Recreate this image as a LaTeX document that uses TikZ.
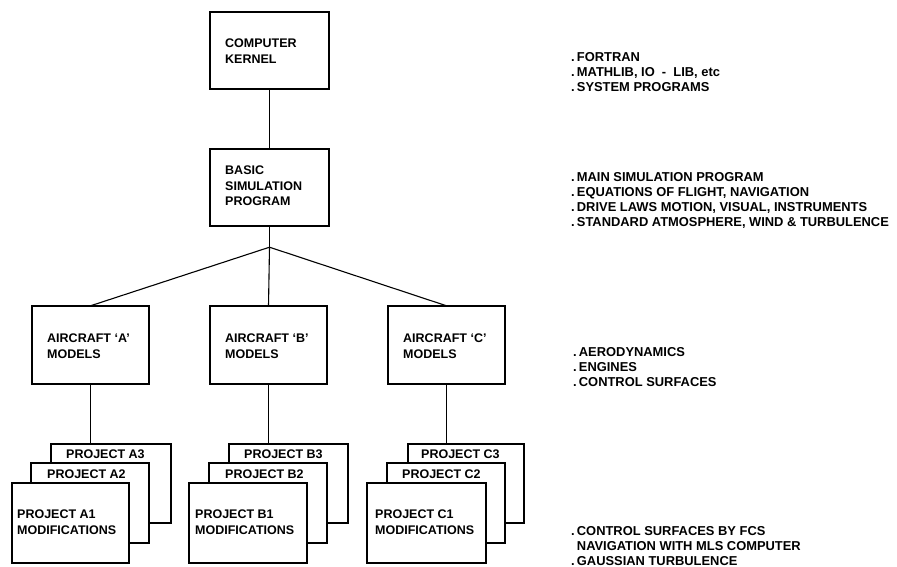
\documentclass[tikz,border=0pt]{standalone}
\usepackage{fontspec}
\setmainfont{Liberation Sans}
\begin{document}
\begin{tikzpicture}[x=1pt,y=-1pt,
  box/.style={draw=black,line width=1.6pt,fill=white,inner sep=0pt},
  conn/.style={draw=black,line width=1.1pt},
  boxtxt/.style={font=\fontsize{12.5}{15.5}\selectfont\bfseries,align=left,anchor=west,inner sep=0pt},
  note/.style={font=\fontsize{12.9}{15}\selectfont\bfseries,align=left,anchor=north west,inner sep=0pt}
]
\useasboundingbox (0,0) rectangle (897,567);
% helper macro for boxes by corners
\newcommand{\mybox}[5]{\path[box] (#2,#3) rectangle (#4,#5); \node[inner sep=0pt,minimum width={#4-#2},minimum height={#5-#3}] (#1) at ({(#2+#4)/2},{(#3+#5)/2}) {};}
% top boxes
\mybox{K}{210}{12}{329}{89}
\node[boxtxt] (Kt) at (225,51) {COMPUTER\\KERNEL};
\mybox{S}{210}{149}{329}{226}
\node[boxtxt] (St) at (225,186) {BASIC\\SIMULATION\\PROGRAM};
% aircraft
\mybox{A}{32}{306}{149}{384}
\node[boxtxt] (At) at (47,346) {AIRCRAFT `A'\\MODELS};
\mybox{B}{210}{306}{327}{384}
\node[boxtxt] (Bt) at (225,346) {AIRCRAFT `B'\\MODELS};
\mybox{C}{388}{306}{505}{384}
\node[boxtxt] (Ct) at (403,346) {AIRCRAFT `C'\\MODELS};
% connectors
\coordinate (J) at ([yshift=-21pt]S.south);
\draw[conn] (K.south) -- (S.north);
\draw[conn] (S.south) -- (J);
\draw[conn] (J) -- (A.north);
\draw[conn] (J) -- (B.north);
\draw[conn] (J) -- (C.north);
% project stacks
\mybox{Aiii}{51}{444}{171}{523}
\mybox{Aii}{31}{463}{149}{543}
\mybox{Ai}{12}{483}{129}{563}
\node[boxtxt] (Aiiit) at (66,454) {PROJECT A3};
\node[boxtxt] (Aiit) at (47,474) {PROJECT A2};
\node[boxtxt] (Ait) at (17,522) {PROJECT A1\\MODIFICATIONS};
\mybox{Biii}{229}{444}{348}{523}
\mybox{Bii}{209}{463}{327}{543}
\mybox{Bi}{189}{483}{307}{563}
\node[boxtxt] (Biiit) at (244,454) {PROJECT B3};
\node[boxtxt] (Biit) at (225,474) {PROJECT B2};
\node[boxtxt] (Bit) at (195,522) {PROJECT B1\\MODIFICATIONS};
\mybox{Ciii}{408}{444}{524}{523}
\mybox{Cii}{387}{463}{505}{543}
\mybox{Ci}{367}{483}{486}{563}
\node[boxtxt] (Ciiit) at (421,454) {PROJECT C3};
\node[boxtxt] (Ciit) at (402,474) {PROJECT C2};
\node[boxtxt] (Cit) at (375,522) {PROJECT C1\\MODIFICATIONS};
\draw[conn] (A.south) -- (A.south |- Aiii.north);
\draw[conn] (B.south) -- (B.south |- Biii.north);
\draw[conn] (C.south) -- (C.south |- Ciii.north);
% right notes
\node[note] (N1) at (571,52) {.\,FORTRAN\\.\,MATHLIB, IO\ \ -\ \ LIB, etc\\.\,SYSTEM PROGRAMS};
\node[note] (N2) at (571,172) {.\,MAIN SIMULATION PROGRAM\\.\,EQUATIONS OF FLIGHT, NAVIGATION\\.\,DRIVE LAWS MOTION, VISUAL, INSTRUMENTS\\.\,STANDARD ATMOSPHERE, WIND \& TURBULENCE};
\node[note] (N3) at (573,347) {.\,AERODYNAMICS\\.\,ENGINES\\.\,CONTROL SURFACES};
\node[note] (N4) at (571,526) {.\,CONTROL SURFACES BY FCS\\\phantom{.\,}NAVIGATION WITH MLS COMPUTER\\.\,GAUSSIAN TURBULENCE};
\end{tikzpicture}
\end{document}
